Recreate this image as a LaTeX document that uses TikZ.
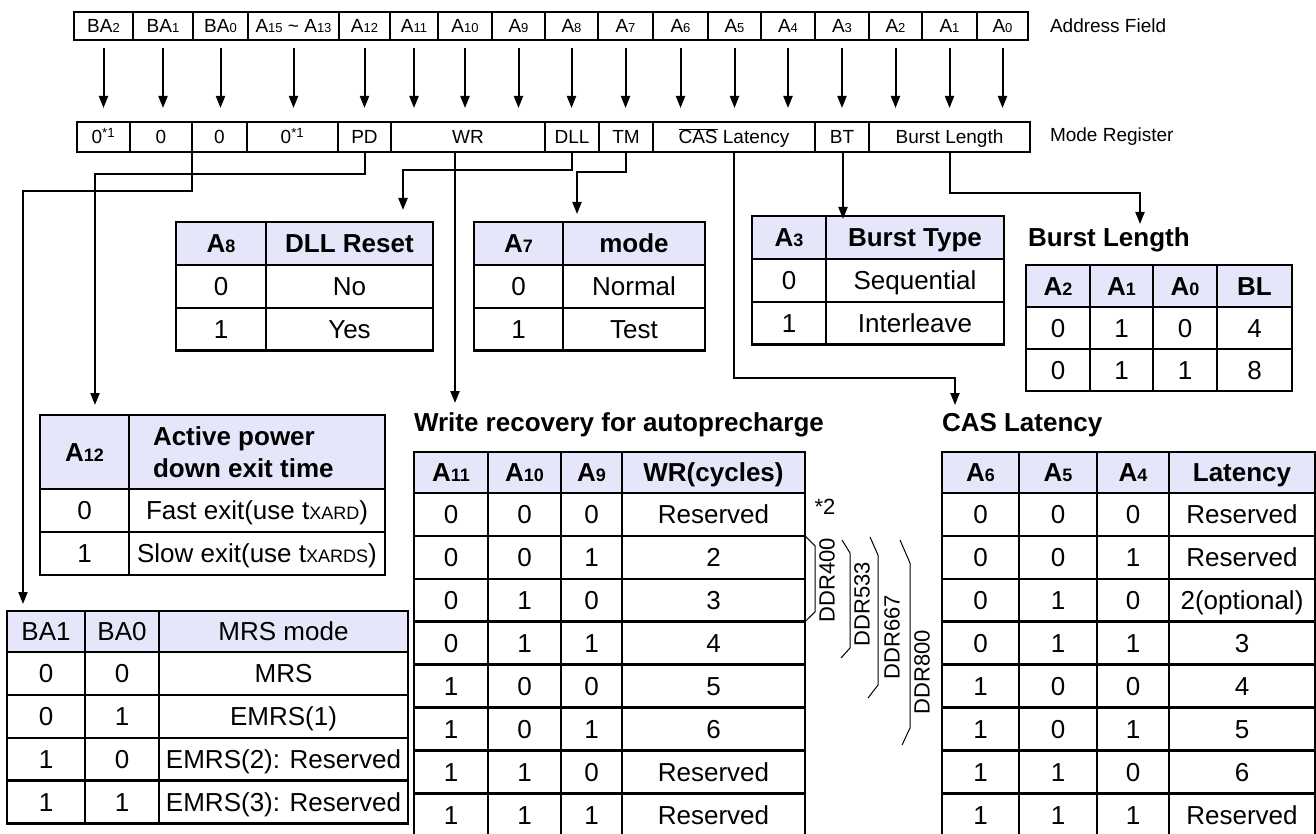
\documentclass[tikz,border=0pt]{standalone}
\usepackage{fontspec}
\setmainfont{Liberation Sans}
\usetikzlibrary{arrows.meta,positioning}
\definecolor{hdr}{RGB}{230,230,250}
\newcommand{\sa}[1]{{\fontsize{13}{13}\selectfont #1}}
\newcommand{\sn}[1]{{\fontsize{18}{18}\selectfont #1}}

\begin{document}
\begin{tikzpicture}[x=1pt, y=-1pt]
\tikzstyle{every node}=[inner sep=0pt, outer sep=0pt]
\tikzstyle{fld}=[draw, line width=2.5pt, minimum height=28pt, text height=13.6pt, text depth=0pt, font=\fontsize{19}{19}\selectfont]
\tikzstyle{reg}=[fld, minimum height=30pt]
\tikzstyle{cell}=[draw, line width=2.5pt, minimum height=42.9pt, text height=18.7pt, text depth=0pt, font=\fontsize{26}{26}\selectfont]
\tikzstyle{hcell}=[cell, fill=hdr, font=\bfseries\fontsize{26}{26}\selectfont]
\tikzstyle{title}=[anchor=west, font=\bfseries\fontsize{26}{26}\selectfont]
\tikzstyle{side}=[anchor=west, font=\fontsize{19}{19}\selectfont]
\tikzstyle{arr}=[line width=2pt, -{Triangle[length=12pt,width=9pt]}]
\tikzstyle{brk}=[line width=1pt]
\tikzstyle{ddr}=[rotate=90, font=\fontsize{22}{22}\selectfont]

\useasboundingbox (0,0) rectangle (1316,834);

% address field and mode register
\foreach \l/\r/\t [count=\i] in {74/133/BA\sa{2}, 133/193/BA\sa{1}, 193/248/BA\sa{0},
    248/339/A\sa{15} \textasciitilde{} A\sa{13}, 339/390/A\sa{12}, 390/438/A\sa{11},
    438/492/A\sa{10}, 492/545/A\sa{9}, 545/598/A\sa{8}, 598/653/A\sa{7}, 653/708/A\sa{6},
    708/761/A\sa{5}, 761/815/A\sa{4}, 815/869/A\sa{3}, 869/922/A\sa{2}, 922/977/A\sa{1}, 977/1028/A\sa{0}}
  \node[fld, minimum width={\r-\l}] (a\i) at ({(\l+\r)/2}, 26) {\t};

\foreach \l/\r/\t [count=\i] in {77/130/0\textsuperscript{*1}, 130/192/0, 192/247/0,
    247/338/0\textsuperscript{*1}, 338/391/PD, 391/545/WR, 545/599/DLL, 599/653/TM,
    653/815/$\overline{\mbox{CAS}}$ Latency, 815/869/BT, 869/1030/Burst Length}
  \node[reg, minimum width={\r-\l}] (m\i) at ({(\l+\r)/2}, 137) {\t};

\node[side] (addr) at (1050,26) {Address Field};
\node[side] (mreg) at (1050,137) {Mode Register};

\foreach \i in {1,...,17}
  \draw[arr, shorten <=8pt, shorten >=14pt] (a\i.south) -- (a\i.south |- m1.north);

% A8 DLL reset
\node[hcell, minimum width=90pt, anchor=north west] (d0-1) at (176,222) {A\sn{8}};
\node[hcell, minimum width=167pt, right=0pt of d0-1] (d0-2) {DLL Reset};
\foreach \a/\b [count=\i] in {0/No, 1/Yes} {
  \pgfmathtruncatemacro\j{\i-1}
  \node[cell, minimum width=90pt, below=0pt of d\j-1] (d\i-1) {\a};
  \node[cell, minimum width=167pt, right=0pt of d\i-1] (d\i-2) {\b};
}

% A7 mode
\node[hcell, minimum width=89pt, anchor=north west] (t0-1) at (474,222) {A\sn{7}};
\node[hcell, minimum width=142pt, right=0pt of t0-1] (t0-2) {mode};
\foreach \a/\b [count=\i] in {0/Normal, 1/Test} {
  \pgfmathtruncatemacro\j{\i-1}
  \node[cell, minimum width=89pt, below=0pt of t\j-1] (t\i-1) {\a};
  \node[cell, minimum width=142pt, right=0pt of t\i-1] (t\i-2) {\b};
}

% A3 burst type
\node[hcell, minimum width=74pt, anchor=north west] (b0-1) at (752,216) {A\sn{3}};
\node[hcell, minimum width=178pt, right=0pt of b0-1] (b0-2) {Burst Type};
\foreach \a/\b [count=\i] in {0/Sequential, 1/Interleave} {
  \pgfmathtruncatemacro\j{\i-1}
  \node[cell, minimum width=74pt, below=0pt of b\j-1] (b\i-1) {\a};
  \node[cell, minimum width=178pt, right=0pt of b\i-1] (b\i-2) {\b};
}

% burst length
\node[title] (blt) at (1028,240) {Burst Length};
\node[hcell, minimum width=64pt, minimum height=42pt, anchor=north west] (l0-1) at (1026,265) {A\sn{2}};
\node[hcell, minimum width=63pt, minimum height=42pt, right=0pt of l0-1] (l0-2) {A\sn{1}};
\node[hcell, minimum width=64pt, minimum height=42pt, right=0pt of l0-2] (l0-3) {A\sn{0}};
\node[hcell, minimum width=75pt, minimum height=42pt, right=0pt of l0-3] (l0-4) {BL};
\foreach \a/\b/\c/\v [count=\i] in {0/1/0/4, 0/1/1/8} {
  \pgfmathtruncatemacro\j{\i-1}
  \node[cell, minimum width=64pt, minimum height=42pt, below=0pt of l\j-1] (l\i-1) {\a};
  \node[cell, minimum width=63pt, minimum height=42pt, right=0pt of l\i-1] (l\i-2) {\b};
  \node[cell, minimum width=64pt, minimum height=42pt, right=0pt of l\i-2] (l\i-3) {\c};
  \node[cell, minimum width=75pt, minimum height=42pt, right=0pt of l\i-3] (l\i-4) {\v};
}

% A12 power down exit
\node[hcell, minimum width=89pt, minimum height=74pt, anchor=north west] (p0-1) at (40,415) {A\sn{12}};
\node[hcell, minimum width=256pt, minimum height=74pt, right=0pt of p0-1] (p0-2) {};
\node[anchor=west, align=left, font=\bfseries\fontsize{26}{32}\selectfont] (pdh) at (153,452) {Active power\\down exit time};
\foreach \a/\b [count=\i] in {0/Fast exit(use t\sn{XARD}), 1/Slow exit(use t\sn{XARDS})} {
  \pgfmathtruncatemacro\j{\i-1}
  \node[cell, minimum width=89pt, below=0pt of p\j-1] (p\i-1) {\a};
  \node[cell, minimum width=256pt, right=0pt of p\i-1] (p\i-2) {\b};
}

% BA1 BA0 MRS mode
\node[hcell, minimum width=78pt, minimum height=41pt, anchor=north west, font=\fontsize{26}{26}\selectfont] (s0-1) at (7,611) {BA1};
\node[hcell, minimum width=74pt, minimum height=41pt, right=0pt of s0-1, font=\fontsize{26}{26}\selectfont] (s0-2) {BA0};
\node[hcell, minimum width=249pt, minimum height=41pt, right=0pt of s0-2, font=\fontsize{26}{26}\selectfont] (s0-3) {MRS mode};
\foreach \a/\b/\v [count=\i] in {0/0/MRS, 0/1/EMRS(1), 1/0/EMRS(2): Reserved, 1/1/EMRS(3): Reserved} {
  \pgfmathtruncatemacro\j{\i-1}
  \node[cell, minimum width=78pt, below=0pt of s\j-1] (s\i-1) {\a};
  \node[cell, minimum width=74pt, right=0pt of s\i-1] (s\i-2) {\b};
  \node[cell, minimum width=249pt, right=0pt of s\i-2] (s\i-3) {\v};
}

% write recovery
\node[title] (wrt) at (414,425) {Write recovery for autoprecharge};
\node[hcell, minimum width=74pt, minimum height=41pt, anchor=north west] (w0-1) at (414,452) {A\sn{11}};
\node[hcell, minimum width=73pt, minimum height=41pt, right=0pt of w0-1] (w0-2) {A\sn{10}};
\node[hcell, minimum width=61pt, minimum height=41pt, right=0pt of w0-2] (w0-3) {A\sn{9}};
\node[hcell, minimum width=183pt, minimum height=41pt, right=0pt of w0-3] (w0-4) {WR(cycles)};
\foreach \a/\b/\c/\v [count=\i] in {0/0/0/Reserved, 0/0/1/2, 0/1/0/3, 0/1/1/4,
    1/0/0/5, 1/0/1/6, 1/1/0/Reserved, 1/1/1/Reserved} {
  \pgfmathtruncatemacro\j{\i-1}
  \node[cell, minimum width=74pt, below=0pt of w\j-1] (w\i-1) {\a};
  \node[cell, minimum width=73pt, right=0pt of w\i-1] (w\i-2) {\b};
  \node[cell, minimum width=61pt, right=0pt of w\i-2] (w\i-3) {\c};
  \node[cell, minimum width=183pt, right=0pt of w\i-3] (w\i-4) {\v};
}
\node[font=\fontsize{22}{22}\selectfont] (fn2) at (825,507) {*2};

% speed grades
\draw[brk] (w2-4.north east) -- ++(10,10) -- ++(0,66) -- (w3-4.south east);
\node[ddr] (ddr400) at (827,580) {DDR400};
\draw[brk] (842,540) -- (850,553) -- (850,648) -- (841,658);
\node[ddr] (ddr533) at (862,604) {DDR533};
\draw[brk] (870,537) -- (878,555) -- (878,685) -- (868,698);
\node[ddr] (ddr667) at (892,637) {DDR667};
\draw[brk] (900,540) -- (910,563) -- (910,728) -- (902,745);
\node[ddr] (ddr800) at (922,672) {DDR800};

% CAS latency
\node[title] (cast) at (942,425) {CAS Latency};
\node[hcell, minimum width=77pt, minimum height=41pt, anchor=north west] (c0-1) at (942,452) {A\sn{6}};
\node[hcell, minimum width=78pt, minimum height=41pt, right=0pt of c0-1] (c0-2) {A\sn{5}};
\node[hcell, minimum width=72pt, minimum height=41pt, right=0pt of c0-2] (c0-3) {A\sn{4}};
\node[hcell, minimum width=146pt, minimum height=41pt, right=0pt of c0-3] (c0-4) {Latency};
\foreach \a/\b/\c/\v [count=\i] in {0/0/0/Reserved, 0/0/1/Reserved, 0/1/0/2(optional), 0/1/1/3,
    1/0/0/4, 1/0/1/5, 1/1/0/6, 1/1/1/Reserved} {
  \pgfmathtruncatemacro\j{\i-1}
  \node[cell, minimum width=77pt, below=0pt of c\j-1] (c\i-1) {\a};
  \node[cell, minimum width=78pt, right=0pt of c\i-1] (c\i-2) {\b};
  \node[cell, minimum width=72pt, right=0pt of c\i-2] (c\i-3) {\c};
  \node[cell, minimum width=146pt, right=0pt of c\i-3] (c\i-4) {\v};
}

% connectors from the mode register
\coordinate (mrsin) at (23,604);
\coordinate (apdin) at (95,405);
\coordinate (wrin) at (455,403);
\coordinate (dllin) at (403,210);
\coordinate (tmin) at (577,214);
\coordinate (casin) at (955,405);
\coordinate (btin) at (843,219);
\coordinate (blin) at (1140,224);

\draw[arr] (m2.south east) -- ++(0,39) -| (mrsin);
\draw[arr] (m5.south) -- ++(0,22) -| (apdin);
\draw[arr] (wrin |- m6.south) -- (wrin);
\draw[arr] (m7.south) -- ++(0,18) -| (dllin);
\draw[arr] (m8.south) -- ++(0,20) -| (tmin);
\draw[arr] (m9.south) -- ++(0,226) -| (casin);
\draw[arr] (btin |- m10.south) -- (btin);
\draw[arr] (m11.south) -- ++(0,41) -| (blin);

\end{tikzpicture}
\end{document}
